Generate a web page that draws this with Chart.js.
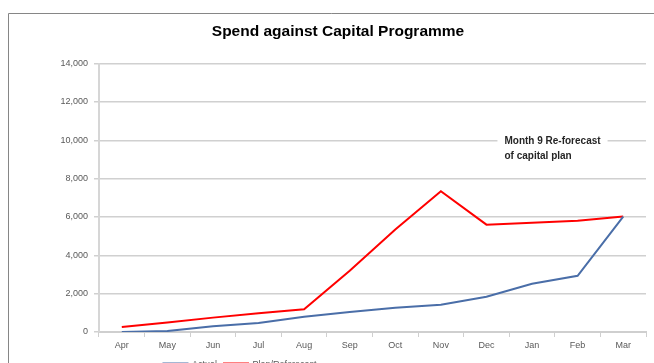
<!DOCTYPE html>
<html>
<head>
<meta charset="utf-8">
<script src="https://cdn.jsdelivr.net/npm/chart.js@4/dist/chart.umd.min.js"></script>
<style>
html,body{margin:0;padding:0;background:#fff;overflow:hidden;width:654px;height:363px;}
canvas{display:block;}
</style>
</head>
<body>
<canvas id="c" width="654" height="379"></canvas>
<script>
const months = ['Apr','May','Jun','Jul','Aug','Sep','Oct','Nov','Dec','Jan','Feb','Mar'];
const actual = [0, 50, 300, 470, 790, 1040, 1260, 1420, 1840, 2520, 2930, 6020];
const planReforecast = [260, 500, 750, 980, 1190, 3200, 5350, 7340, 5600, 5700, 5800, 6020];
const yTicks = [0, 2000, 4000, 6000, 8000, 10000, 12000, 14000];
const chartTitle = 'Spend against Capital Programme';
const noteLines = ['Month 9 Re-forecast', 'of capital plan'];

const framePlugin = {
  id: 'frame',
  beforeDraw(chart) {
    const ctx = chart.ctx;
    ctx.save();
    ctx.fillStyle = '#fff';
    ctx.fillRect(0, 0, chart.width, chart.height);
    ctx.strokeStyle = '#868686';
    ctx.lineWidth = 1;
    ctx.beginPath();
    ctx.moveTo(8.5, chart.height);
    ctx.lineTo(8.5, 13.5);
    ctx.lineTo(chart.width, 13.5);
    ctx.stroke();
    ctx.restore();
  },
  afterLayout(chart) {
    const lg = chart.legend;
    if (lg) { lg.left = 100; lg.right = 380; }
    const tb = chart.titleBlock;
    if (tb) { tb.left = 30; tb.right = 646; }
  },
  afterDraw(chart) {
    const ctx = chart.ctx;
    const xs = chart.scales.x, ys = chart.scales.y;
    const x0 = xs.getPixelForValue(8) + 18;
    const y0 = ys.getPixelForValue(10000);
    ctx.save();
    ctx.font = 'bold 10px "Liberation Sans"';
    const w = Math.max(...noteLines.map(t => ctx.measureText(t).width));
    ctx.fillStyle = '#fff';
    ctx.fillRect(x0 - 7, y0 - 8, w + 14, 30);
    ctx.fillStyle = '#262626';
    ctx.textBaseline = 'middle';
    ctx.textAlign = 'left';
    noteLines.forEach((t, i) => ctx.fillText(t, x0, y0 + 1 + i * 14.5));
    ctx.restore();
  }
};

new Chart(document.getElementById('c'), {
  type: 'line',
  data: {
    labels: months,
    datasets: [
      { label: 'Actual', data: actual, borderColor: '#4A6EA8', backgroundColor: '#4A6EA8', borderWidth: 2, pointRadius: 0, tension: 0 },
      { label: 'Plan/Reforecast', data: planReforecast, borderColor: '#FF0000', backgroundColor: '#FF0000', borderWidth: 2, pointRadius: 0, tension: 0 }
    ]
  },
  options: {
    responsive: false,
    animation: false,
    layout: { padding: { left: 0, right: 8, top: 0, bottom: 0 } },
    plugins: {
      title: {
        display: true, text: chartTitle, color: '#000',
        font: { family: '"Liberation Sans"', size: 15.5, weight: 'bold' },
        padding: { top: 22, bottom: 23 }
      },
      legend: {
        position: 'bottom',
        labels: { boxWidth: 24, boxHeight: 2, color: '#595959', font: { family: '"Liberation Sans"', size: 9 }, padding: 7 }
      },
      tooltip: { enabled: false }
    },
    scales: {
      x: {
        offset: true,
        grid: { display: true, drawOnChartArea: false, drawTicks: true, tickLength: 5, offset: true, color: '#cfcfcf', lineWidth: 1 },
        border: { display: true, color: '#cfcfcf', width: 2 },
        ticks: { color: '#595959', font: { family: '"Liberation Sans"', size: 9 }, padding: 3, maxRotation: 0, autoSkip: false },
        afterFit(s) { s.height = 21; }
      },
      y: {
        min: 0, max: 14000,
        afterBuildTicks(s) { s.ticks = yTicks.map(v => ({ value: v })); },
        grid: { color: '#d0d0d0', lineWidth: 1.5, tickLength: 5, drawTicks: true },
        border: { display: true, color: '#d6d6d6', width: 2 },
        ticks: { color: '#595959', font: { family: '"Liberation Sans"', size: 9 }, padding: 6,
          callback: v => v.toLocaleString('en-US') },
        afterFit(s) { s.width = 99; }
      }
    }
  },
  plugins: [framePlugin]
});
</script>
</body>
</html>
